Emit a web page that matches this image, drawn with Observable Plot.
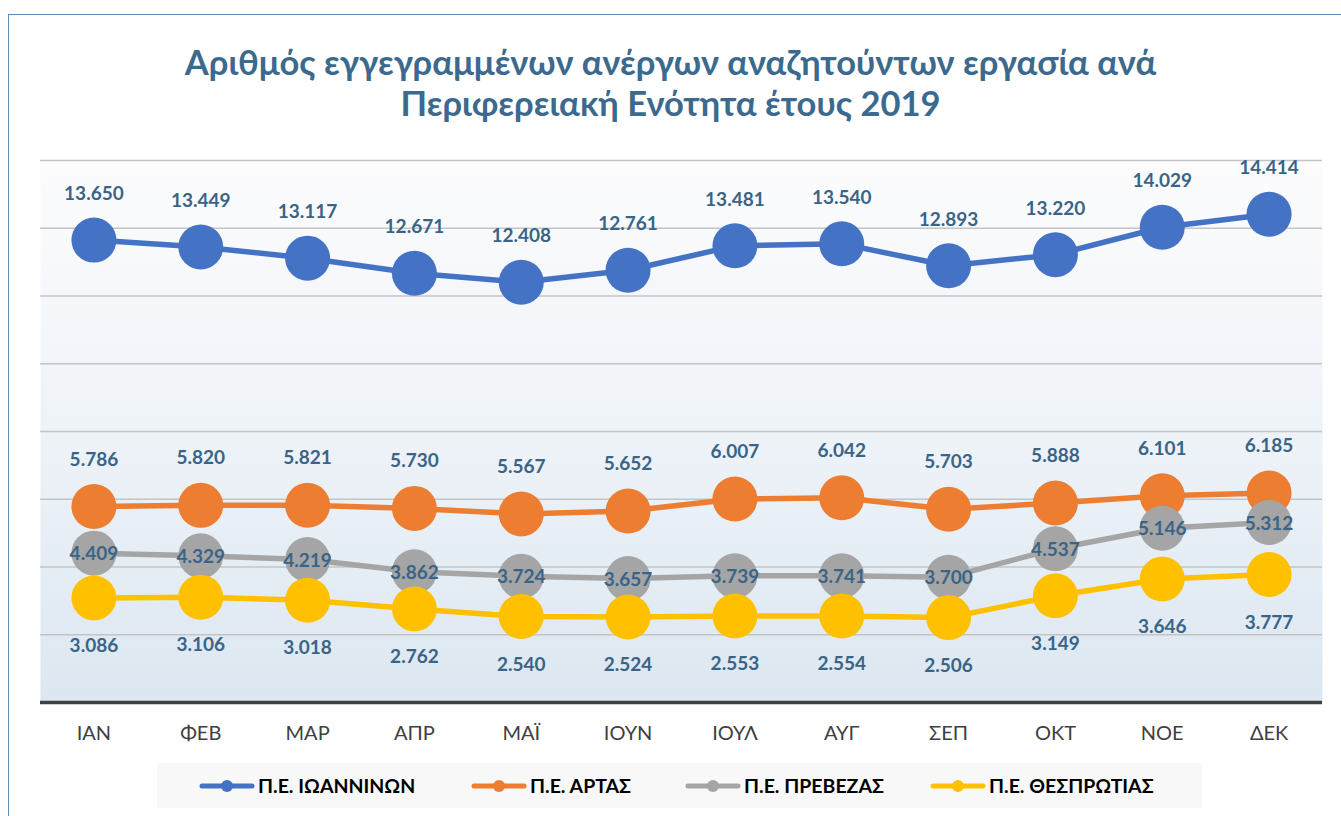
<!DOCTYPE html>
<html>
<head>
<meta charset="utf-8">
<script src="https://cdn.jsdelivr.net/npm/d3@7"></script>
<script src="https://cdn.jsdelivr.net/npm/@observablehq/plot@0.6"></script>
<style>
  html, body { margin: 0; padding: 0; background: #fff; }
  #wrap { position: relative; width: 1341px; height: 816px; overflow: hidden; font-family: Lato, "Open Sans", sans-serif; }
  #frame { position: absolute; left: 8px; top: 14px; width: 1400px; height: 900px; border-left: 1.5px solid #5f8db8; border-top: 1.5px solid #5f8db8; }
  #title { position: absolute; left: 0; width: 1341px; top: 41px; text-align: center; color: #3c6a8e; font-weight: 700; font-size: 34.5px; line-height: 41px; }
  #chart { position: absolute; left: 0; top: 0; }
  #legend { position: absolute; left: 157px; top: 763px; width: 1045px; height: 45px; background: #f8f8f8; }
  .item { position: absolute; top: 0; height: 45px; display: flex; align-items: center; font-weight: 700; font-size: 19.5px; color: #000; }
  .item svg { margin-right: 3px; }
</style>
</head>
<body>
<div id="wrap">
  <div id="frame"></div>
  <div id="title">Αριθμός εγγεγραμμένων ανέργων αναζητούντων εργασία ανά<br>Περιφερειακή Ενότητα έτους 2019</div>
  <div id="chart"></div>
  <div id="legend"></div>
</div>
<script>
const months = ["ΙΑΝ","ΦΕΒ","ΜΑΡ","ΑΠΡ","ΜΑΪ","ΙΟΥΝ","ΙΟΥΛ","ΑΥΓ","ΣΕΠ","ΟΚΤ","ΝΟΕ","ΔΕΚ"];
const seriesNames = ["Π.Ε. ΙΩΑΝΝΙΝΩΝ","Π.Ε. ΑΡΤΑΣ","Π.Ε. ΠΡΕΒΕΖΑΣ","Π.Ε. ΘΕΣΠΡΩΤΙΑΣ"];
const seriesColors = ["#4472c4","#ed7d31","#a5a5a5","#ffc000"];
const ioannina = [13650,13449,13117,12671,12408,12761,13481,13540,12893,13220,14029,14414];
const arta = [5786,5820,5821,5730,5567,5652,6007,6042,5703,5888,6101,6185];
const preveza = [4409,4329,4219,3862,3724,3657,3739,3741,3700,4537,5146,5312];
const thesprotia = [3086,3106,3018,2762,2540,2524,2553,2554,2506,3149,3646,3777];
const gridTicks = [0,2000,4000,6000,8000,10000,12000,14000,16000];
const labelOffsets = [-46, -47, 1, 48];

const seriesValues = [ioannina, arta, preveza, thesprotia];
const data = [];
seriesValues.forEach((vals, s) => vals.forEach((v, i) => data.push({series: seriesNames[s], si: s, month: months[i], value: v})));

const fmt = d3.formatLocale({decimal: ",", thousands: ".", grouping: [3], currency: ["", "€"]}).format(",d");
const labelColor = "#3a6487";

const marks = [
  Plot.frame({fill: "url(#bgGrad)", stroke: "none"}),
  Plot.ruleY(gridTicks.slice(1), {stroke: "#c4c4c4", strokeWidth: 1.5}),
  Plot.ruleY([0], {stroke: "#404040", strokeWidth: 3.5})
];
seriesNames.forEach((name, s) => {
  const d = data.filter(r => r.si === s);
  marks.push(Plot.line(d, {x: "month", y: "value", stroke: seriesColors[s], strokeWidth: 5.5}));
  marks.push(Plot.dot(d, {x: "month", y: "value", r: 22.5, fill: seriesColors[s], stroke: "none"}));
});
seriesNames.forEach((name, s) => {
  const d = data.filter(r => r.si === s);
  marks.push(Plot.text(d, {x: "month", y: "value", text: r => fmt(r.value), dy: labelOffsets[s], fill: labelColor, fontWeight: 700, fontSize: 19}));
});

const chart = Plot.plot({
  width: 1341,
  height: 760,
  marginTop: 160,
  marginBottom: 58,
  marginLeft: 40,
  marginRight: 19,
  style: {fontFamily: "Lato, 'Open Sans', sans-serif", background: "transparent", overflow: "visible"},
  x: {type: "point", domain: months, padding: 0.5, round: false, label: null},
  y: {domain: [0, 16000], axis: null},
  marks: [
    ...marks,
    Plot.axisX({tickSize: 0, tickPadding: 23, fontSize: 20, fill: "#404040", label: null})
  ]
});
const svg = d3.select(chart);
const defs = svg.insert("defs", ":first-child");
const g = defs.append("linearGradient").attr("id", "bgGrad").attr("x1", 0).attr("y1", 0).attr("x2", 0).attr("y2", 1);
g.append("stop").attr("offset", "0%").attr("stop-color", "#fcfcfd");
g.append("stop").attr("offset", "50%").attr("stop-color", "#eef3f8");
g.append("stop").attr("offset", "100%").attr("stop-color", "#dce7f1");
document.getElementById("chart").appendChild(chart);

// legend
const legendPos = [42, 314, 528, 773];
const legend = document.getElementById("legend");
seriesNames.forEach((name, s) => {
  const div = document.createElement("div");
  div.className = "item";
  div.style.left = legendPos[s] + "px";
  div.innerHTML = `<svg width="56" height="14"><line x1="3" x2="53" y1="7" y2="7" stroke="${seriesColors[s]}" stroke-width="5" stroke-linecap="round"/><circle cx="28" cy="7" r="6" fill="${seriesColors[s]}"/></svg><span>${name}</span>`;
  legend.appendChild(div);
});
</script>
</body>
</html>
